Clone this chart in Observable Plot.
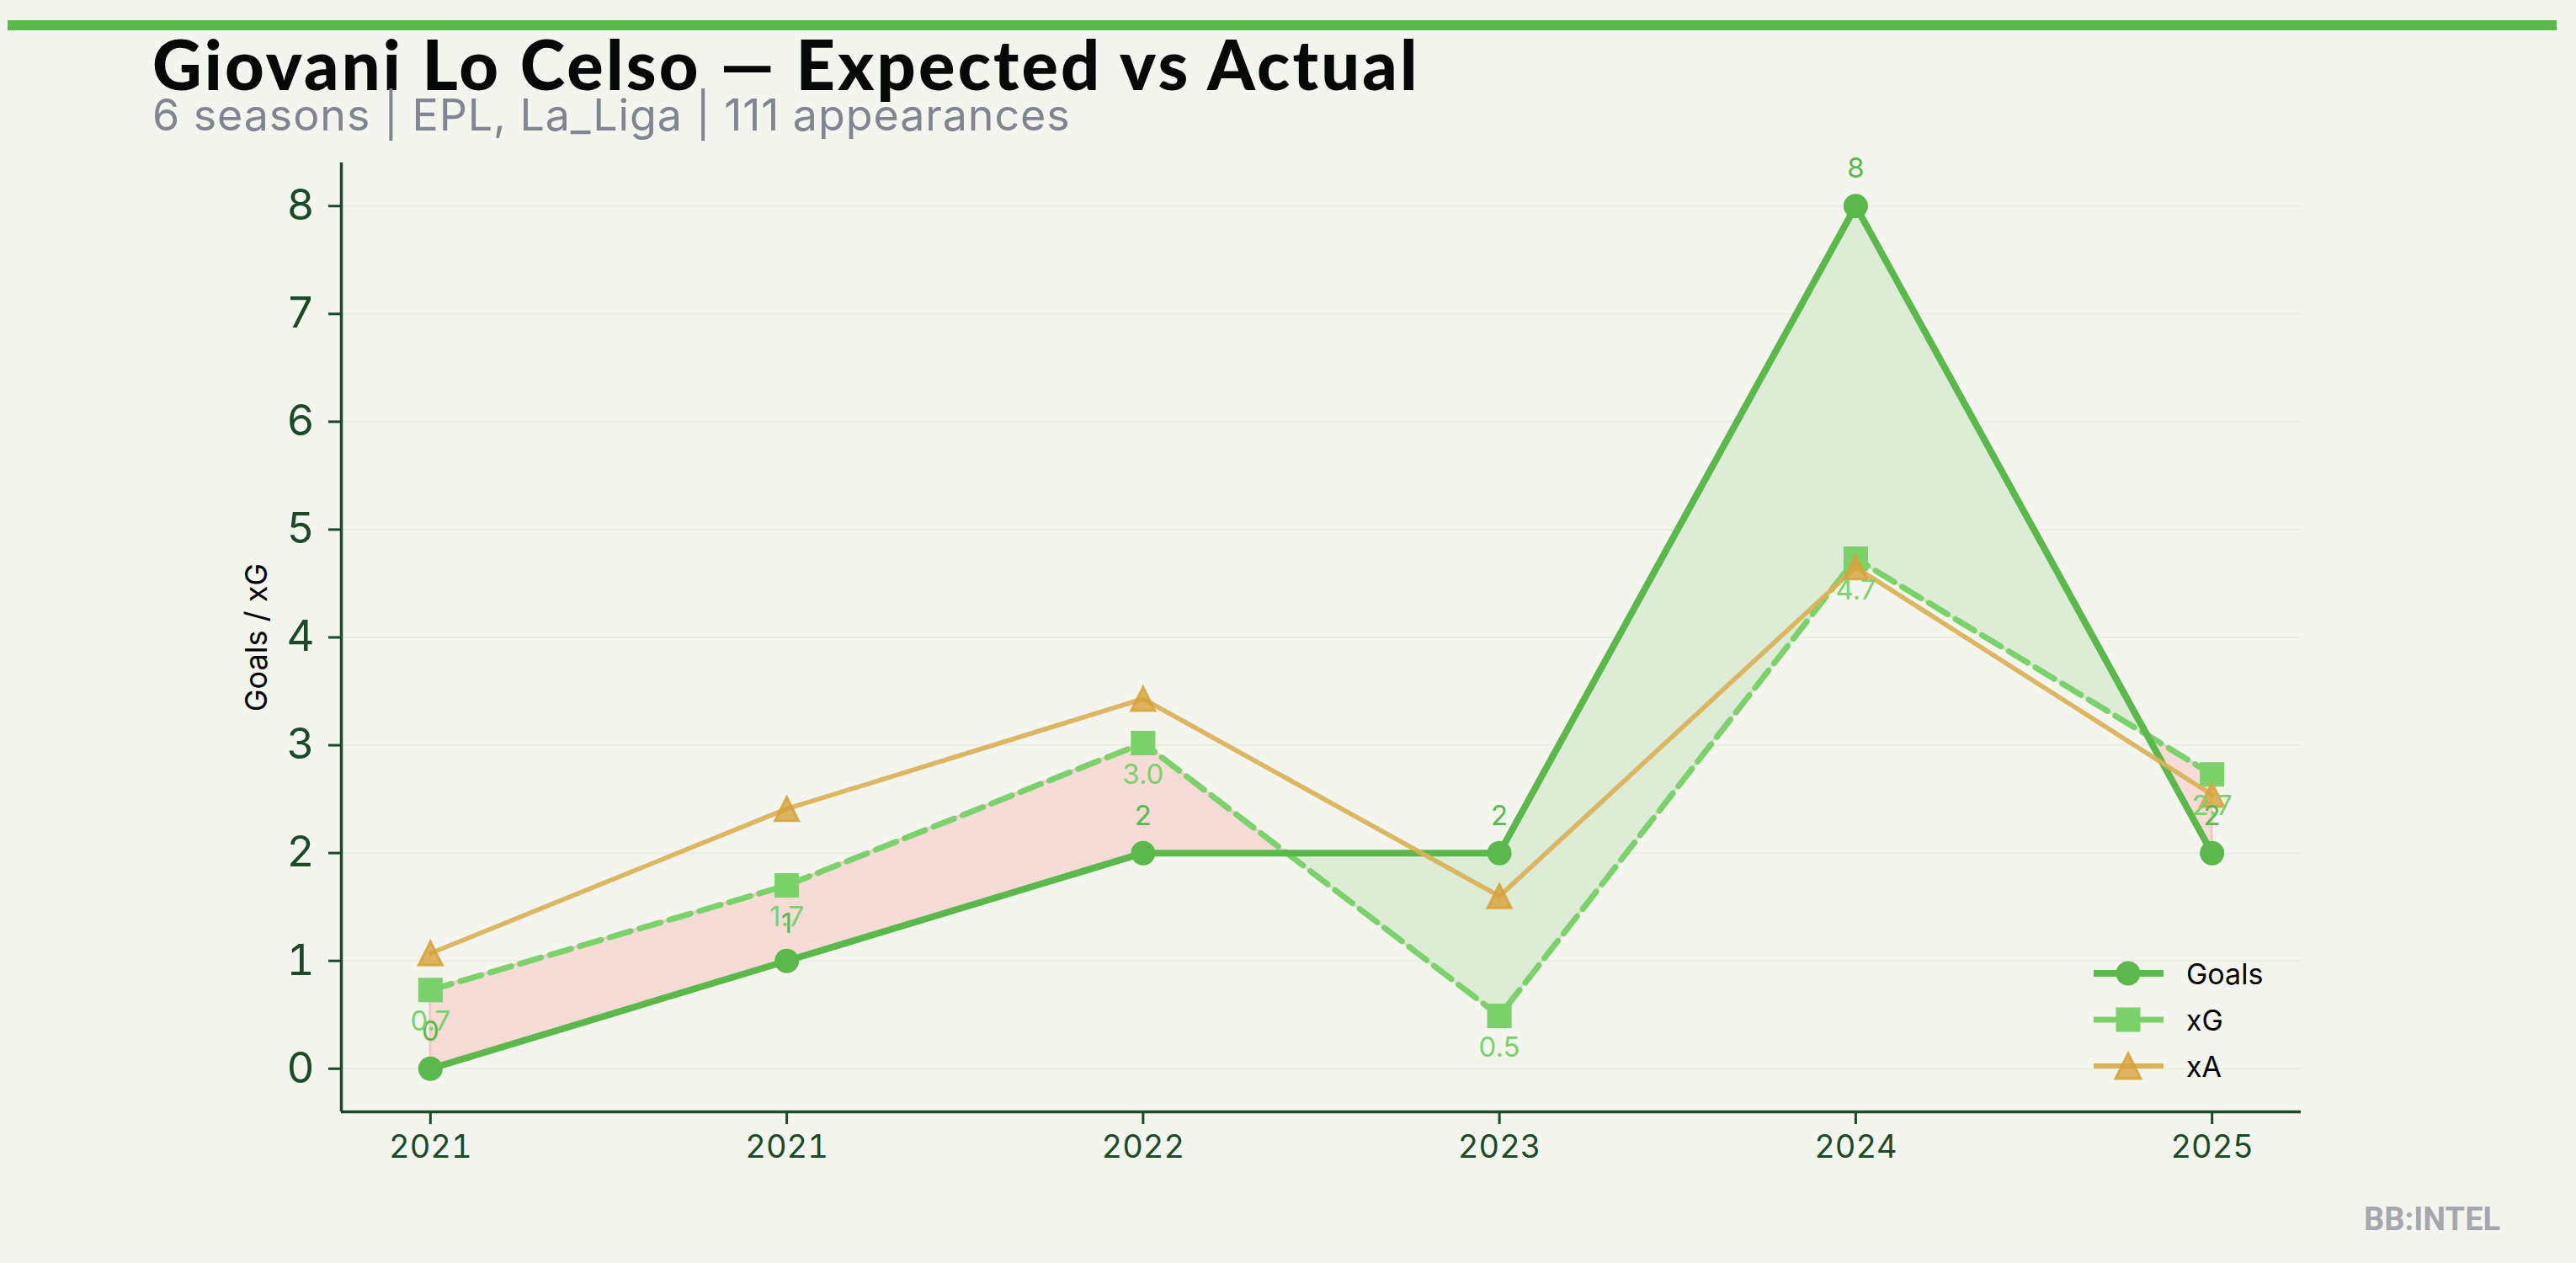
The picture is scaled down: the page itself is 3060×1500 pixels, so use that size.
<!DOCTYPE html>
<html>
<head>
<meta charset="utf-8">
<script src="https://cdn.jsdelivr.net/npm/d3@7"></script>
<script src="https://cdn.jsdelivr.net/npm/@observablehq/plot@0.6"></script>
<style>
  html, body { margin: 0; padding: 0; background: #f4f5ef; }
  #wrap { position: relative; width: 3060px; height: 1500px; background: #f4f5ef; overflow: hidden; }
  #topbar { position: absolute; left: 9px; top: 24px; width: 3028px; height: 12px; background: #5ab94a; }
  #title { position: absolute; left: 181px; top: 26px; font-family: "Lato", sans-serif; font-weight: 900; font-size: 81px; line-height: 100px; color: #050806; white-space: nowrap; letter-spacing: 3.2px; }
  #subtitle { position: absolute; left: 181px; top: 105px; font-family: "Inter", sans-serif; font-weight: 400; font-size: 52px; line-height: 64px; color: #7f8691; white-space: nowrap; letter-spacing: 0.9px; }
  #chart { position: absolute; left: 0; top: 0; }
  #ylabel { position: absolute; left: 304px; top: 757px; transform: translate(-50%, -50%) rotate(-90deg); font-family: "Inter", sans-serif; font-size: 36px; color: #000; white-space: nowrap; }
  #legend { position: absolute; left: 2487px; top: 1128px; font-family: "Inter", sans-serif; font-size: 34px; color: #000; }
  .lrow { position: absolute; left: 0; height: 56px; width: 300px; }
  .lrow svg { position: absolute; left: 0; top: 0; }
  .lrow span { position: absolute; left: 110px; top: 28px; transform: translateY(-50%); white-space: nowrap; }
  #mark { position: absolute; left: 2808px; top: 1424px; font-family: "Roboto", sans-serif; font-weight: 700; font-size: 38px; line-height: 48px; color: #a4a8ae; white-space: nowrap; }
</style>
</head>
<body>
<div id="wrap">
  <div id="chart"></div>
  <div id="topbar"></div>
  <div id="title"></div>
  <div id="subtitle"></div>
  <div id="ylabel"></div>
  <div id="legend"></div>
  <div id="mark"></div>
</div>
<script>
// ---- data ----
const titleText = "Giovani Lo Celso — Expected vs Actual";
const subtitleText = "6 seasons | EPL, La_Liga | 111 appearances";
const seasons = ["2021", "2021", "2022", "2023", "2024", "2025"];
const goals = [0, 1, 2, 2, 8, 2];
const xg = [0.73, 1.70, 3.02, 0.49, 4.73, 2.73];
const xa = [1.07, 2.41, 3.43, 1.60, 4.65, 2.54];
const yTicks = [0, 1, 2, 3, 4, 5, 6, 7, 8];
const seriesNames = ["Goals", "xG", "xA"];

// ---- colours ----
const cGoals = "#5ab94a";
const cXG = "#7bd16a";
const cXA = "#dab258";
const cXAmark = "#d6a23a";
const cAxis = "#1b4a27";

document.getElementById("title").textContent = titleText;
document.getElementById("subtitle").textContent = subtitleText;
document.getElementById("ylabel").textContent = "Goals / xG";
document.getElementById("mark").textContent = "BB:INTEL";

const rows = seasons.map((s, i) => ({i, season: s, goals: goals[i], xg: xg[i], xa: xa[i]}));

// fill-between segments (goals vs xG), split where the two lines cross
const fillPts = [];
let seg = 0;
for (let i = 0; i < rows.length; i++) {
  const d = goals[i] - xg[i];
  const sign = d >= 0 ? "over" : "under";
  fillPts.push({x: i, y1: goals[i], y2: xg[i], seg, sign});
  if (i < rows.length - 1) {
    const dn = goals[i + 1] - xg[i + 1];
    const signN = dn >= 0 ? "over" : "under";
    if (signN !== sign) {
      const t = d / (d - dn);
      const yc = goals[i] + t * (goals[i + 1] - goals[i]);
      fillPts.push({x: i + t, y1: yc, y2: yc, seg, sign});
      seg++;
      fillPts.push({x: i + t, y1: yc, y2: yc, seg, sign: signN});
    }
  }
}

// matplotlib-like triangle marker
const triSym = {
  draw(ctx, size) {
    const s = Math.sqrt(size / Math.PI);
    ctx.moveTo(0, -s); ctx.lineTo(s, s); ctx.lineTo(-s, s); ctx.closePath();
  }
};

const xDomain = [-0.25, 5.25];
const yDomain = [-0.4, 8.4];

const chart = Plot.plot({
  width: 3060,
  height: 1500,
  marginTop: 193,
  marginBottom: 180,
  marginLeft: 405,
  marginRight: 327,
  style: {fontFamily: "Inter, sans-serif", background: "transparent", overflow: "visible"},
  x: {type: "linear", domain: xDomain},
  y: {domain: yDomain},
  marks: [
    Plot.ruleY(yTicks, {stroke: "#ebece5", strokeWidth: 2}),
    Plot.areaY(fillPts.filter(d => d.sign === "under"), {x: "x", y1: "y1", y2: "y2", z: "seg", fill: "#f6dbd7", stroke: "#f3c9c4", strokeWidth: 3}),
    Plot.areaY(fillPts.filter(d => d.sign === "over"), {x: "x", y1: "y1", y2: "y2", z: "seg", fill: "#dcecd7", stroke: "#cfe6c9", strokeWidth: 3}),
    Plot.line(rows, {x: "i", y: "xg", stroke: cXG, strokeWidth: 7, strokeDasharray: "26,11"}),
    Plot.dot(rows, {x: "i", y: "xg", symbol: "square", r: 16.4, fill: cXG, stroke: "none"}),
    Plot.line(rows, {x: "i", y: "goals", stroke: cGoals, strokeWidth: 8}),
    Plot.dot(rows, {x: "i", y: "goals", symbol: "circle", r: 14.5, fill: cGoals, stroke: "none"}),
    Plot.line(rows, {x: "i", y: "xa", stroke: cXA, strokeWidth: 5.5, strokeOpacity: 0.95}),
    Plot.dot(rows, {x: "i", y: "xa", symbol: triSym, r: 14, fill: cXAmark, fillOpacity: 0.8, stroke: cXAmark, strokeWidth: 3, strokeOpacity: 0.85}),
    Plot.text(rows, {x: "i", y: "goals", text: d => String(d.goals), dy: -44, fill: cGoals, fontSize: 33}),
    Plot.text(rows, {x: "i", y: "xg", text: d => d.xg.toFixed(1), dy: 38, fill: cXG, fontSize: 33}),
    Plot.ruleX([xDomain[0]], {stroke: cAxis, strokeWidth: 3.5}),
    Plot.ruleY([yDomain[0]], {stroke: cAxis, strokeWidth: 3.5}),
    Plot.axisY({ticks: yTicks, tickSize: 15, tickPadding: 17, fontSize: 51, color: cAxis, strokeWidth: 3, label: null}),
    Plot.axisX({ticks: [0, 1, 2, 3, 4, 5], tickFormat: i => seasons[i], tickSize: 15, tickPadding: 13, fontSize: 38, color: cAxis, strokeWidth: 3, label: null})
  ]
});
document.getElementById("chart").appendChild(chart);

// ---- legend ----
const legend = document.getElementById("legend");
const legendSpec = [
  {name: seriesNames[0], color: cGoals, width: 8, marker: "circle"},
  {name: seriesNames[1], color: cXG, width: 7, marker: "square"},
  {name: seriesNames[2], color: cXA, width: 6, marker: "triangle"}
];
legendSpec.forEach((s, k) => {
  const row = document.createElement("div");
  row.className = "lrow";
  row.style.top = (k * 55) + "px";
  let mk = "";
  if (s.marker === "circle") mk = `<circle cx="41" cy="28" r="14.5" fill="${s.color}"/>`;
  if (s.marker === "square") mk = `<rect x="26.5" y="13.5" width="29" height="29" fill="${s.color}"/>`;
  if (s.marker === "triangle") mk = `<path d="M41,13 L56,43 L26,43 Z" fill="${cXAmark}" fill-opacity="0.8" stroke="${cXAmark}" stroke-opacity="0.85" stroke-width="3"/>`;
  row.innerHTML = `<svg width="90" height="56"><line x1="0" x2="83" y1="28" y2="28" stroke="${s.color}" stroke-width="${s.width}"/>${mk}</svg><span>${s.name}</span>`;
  legend.appendChild(row);
});
</script>
</body>
</html>
